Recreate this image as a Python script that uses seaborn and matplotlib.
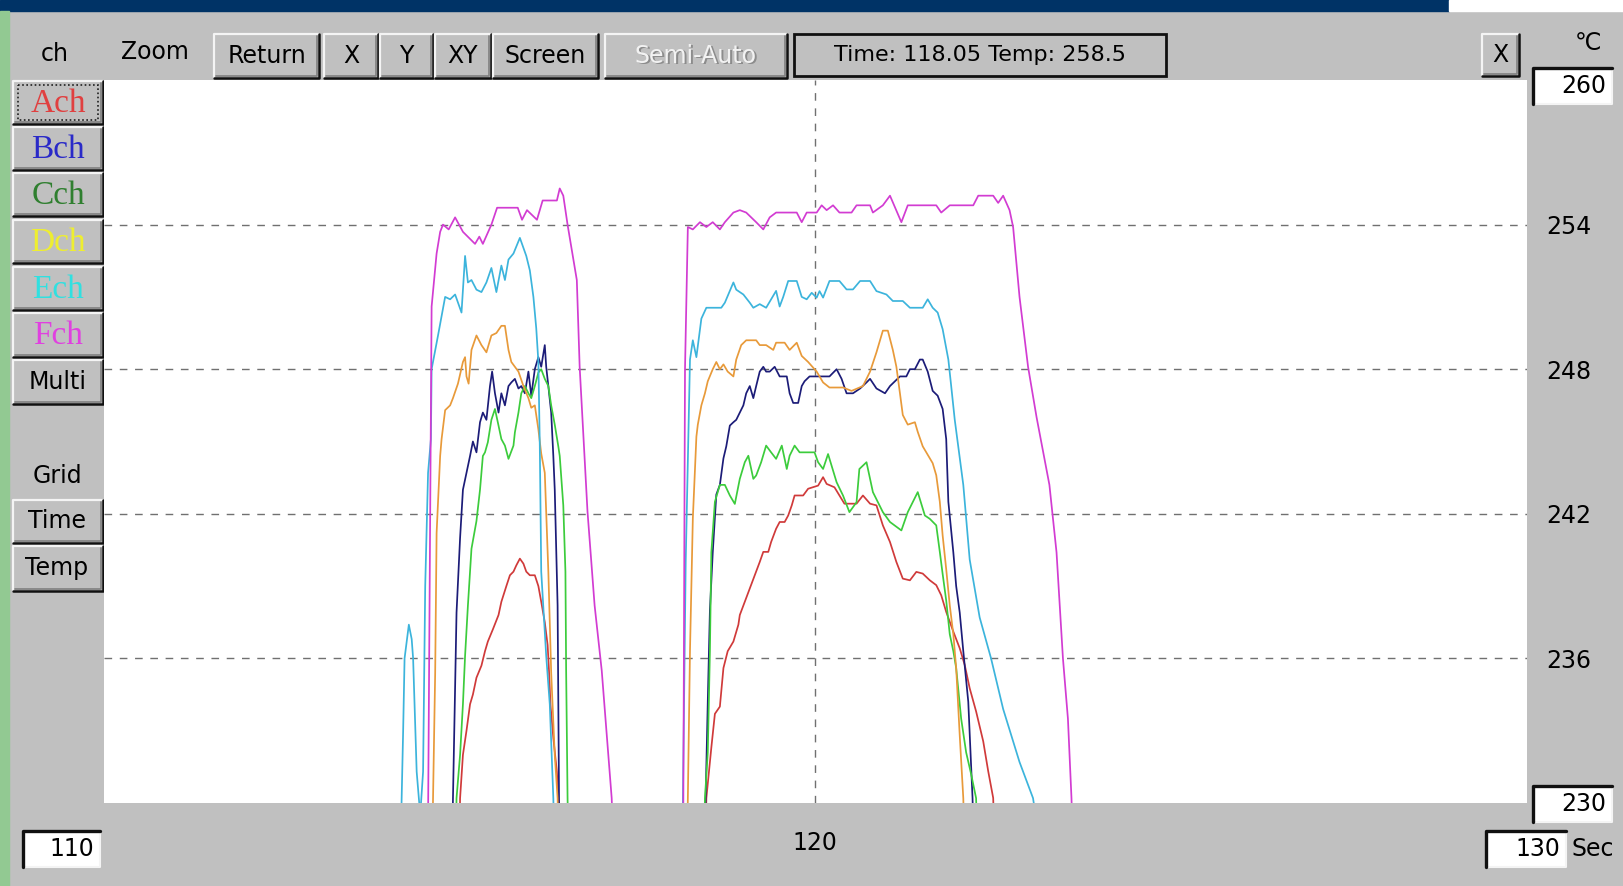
import matplotlib
matplotlib.use("Agg")
import matplotlib.pyplot as plt
import seaborn as sns
import pandas as pd
from matplotlib.patches import Rectangle

# ---------------- data (time in s, temperature in degC) ----------------
ach_time = [114.98, 115.01, 115.05, 115.10, 115.15, 115.19, 115.24, 115.31, 115.36, 115.40,
            115.47, 115.55, 115.59, 115.66, 115.71, 115.76, 115.80, 115.85, 115.90, 115.94,
            115.99, 116.06, 116.11, 116.15, 116.20, 116.24, 116.26, 116.28, 116.32, 116.37,
            116.39, 116.42,
            118.44, 118.47, 118.54, 118.59, 118.66, 118.71, 118.77, 118.85, 118.92, 118.94,
            119.01, 119.08, 119.15, 119.22, 119.27, 119.34, 119.38, 119.45, 119.50, 119.57,
            119.62, 119.67, 119.71, 119.83, 119.90, 120.04, 120.11, 120.16, 120.27, 120.34,
            120.41, 120.58, 120.67, 120.77, 120.86, 120.95, 121.05, 121.14, 121.23, 121.33,
            121.42, 121.51, 121.61, 121.70, 121.77, 121.84, 121.94, 122.03, 122.10, 122.17,
            122.26, 122.36, 122.43, 122.50, 122.55]
ach_temp = [225, 230.2, 232.0, 233.0, 234.1, 234.5, 235.2, 235.7, 236.3, 236.7,
            237.2, 237.8, 238.35, 239.0, 239.45, 239.6, 239.86, 240.14, 239.93, 239.6,
            239.45, 239.45, 239.0, 238.35, 237.5, 236.55, 235.45, 234.07, 232.7, 231.3,
            230.2, 225,
            225, 230.2, 232.3, 233.7, 234.0, 235.6, 236.3, 236.7, 237.4, 237.8,
            238.35, 238.9, 239.45, 240.0, 240.42, 240.42, 240.83, 241.38, 241.66, 241.66,
            241.93, 242.35, 242.76, 242.76, 243.04, 243.17, 243.52, 243.24, 243.1, 242.76,
            242.42, 242.42, 242.76, 242.42, 242.35, 241.52, 240.83, 240.0, 239.31, 239.24,
            239.59, 239.52, 239.24, 239.04, 238.62, 237.93, 237.11, 236.42, 235.73, 234.76,
            233.8, 232.56, 231.32, 230.21, 225]

bch_time = [114.88, 114.91, 114.94, 114.96, 115.01, 115.05, 115.10, 115.15, 115.19, 115.24,
            115.29, 115.33, 115.38, 115.43, 115.46, 115.50, 115.55, 115.59, 115.64, 115.69,
            115.73, 115.78, 115.83, 115.87, 115.92, 115.97, 116.01, 116.06, 116.11, 116.15,
            116.20, 116.22, 116.25, 116.29, 116.32, 116.34, 116.38, 116.40, 116.43,
            118.43, 118.46, 118.49, 118.52, 118.56, 118.61, 118.66, 118.71, 118.75, 118.80,
            118.85, 118.89, 118.94, 118.99, 119.03, 119.08, 119.13, 119.17, 119.22, 119.27,
            119.31, 119.36, 119.43, 119.50, 119.60, 119.64, 119.69, 119.76, 119.81, 119.85,
            119.92, 120.02, 120.20, 120.30, 120.37, 120.44, 120.53, 120.63, 120.72, 120.77,
            120.86, 120.98, 121.05, 121.19, 121.28, 121.33, 121.40, 121.47, 121.51, 121.58,
            121.65, 121.72, 121.79, 121.84, 121.87, 121.94, 121.98, 122.03, 122.08, 122.15,
            122.21, 122.25]
bch_temp = [225, 230.2, 234.8, 237.9, 241.0, 243.0, 243.7, 244.4, 245.0, 244.55,
            245.8, 246.2, 245.9, 247.3, 247.9, 247.0, 246.2, 247.0, 246.5, 247.3,
            247.45, 247.6, 247.2, 247.3, 247.0, 247.9, 246.9, 248.0, 248.5, 248.1,
            249.0, 248.1, 247.3, 246.2, 244.4, 243.0, 238.2, 230.2, 225,
            225, 230.2, 234.2, 238.0, 240.4, 242.8, 243.2, 244.3, 244.8, 245.66,
            245.8, 245.9, 246.2, 246.5, 247.0, 247.3, 246.8, 247.3, 247.9, 248.1,
            247.9, 247.9, 248.1, 247.7, 247.7, 247.0, 246.6, 246.6, 247.3, 247.5,
            247.7, 247.7, 247.7, 248.0, 247.6, 247.0, 247.0, 247.2, 247.45, 247.6,
            247.2, 247.0, 247.3, 247.7, 247.7, 248.0, 248.0, 248.4, 248.4, 247.9,
            247.1, 246.9, 246.35, 245.1, 242.5, 240.4, 239.0, 237.9, 236.3, 234.2,
            230.2, 225]

cch_time = [114.93, 114.96, 115.01, 115.05, 115.08, 115.12, 115.17, 115.24, 115.29, 115.33,
            115.36, 115.40, 115.45, 115.50, 115.55, 115.59, 115.64, 115.69, 115.76, 115.78,
            115.83, 115.87, 115.92, 115.97, 116.01, 116.06, 116.11, 116.15, 116.20, 116.25,
            116.29, 116.34, 116.39, 116.41, 116.46, 116.49, 116.50, 116.52, 116.55,
            118.42, 118.45, 118.49, 118.52, 118.54, 118.59, 118.66, 118.73, 118.80, 118.87,
            118.94, 119.01, 119.06, 119.13, 119.17, 119.24, 119.31, 119.38, 119.45, 119.53,
            119.60, 119.64, 119.71, 119.78, 119.99, 120.04, 120.11, 120.18, 120.30, 120.39,
            120.48, 120.58, 120.62, 120.72, 120.81, 120.95, 121.05, 121.21, 121.30, 121.44,
            121.54, 121.61, 121.70, 121.75, 121.79, 121.84, 121.89, 121.94, 121.98, 122.05,
            122.12, 122.19, 122.26, 122.30]
cch_temp = [225, 230.2, 232.0, 234.1, 236.1, 238.2, 240.55, 241.7, 243.0, 244.4,
            244.55, 244.97, 245.9, 246.35, 245.66, 245.1, 244.83, 244.28, 244.83, 245.38,
            246.2, 247.0, 247.3, 247.0, 246.8, 247.3, 247.86, 248.0, 247.6, 247.3,
            246.5, 245.7, 244.8, 244.4, 242.35, 239.6, 235.5, 230.2, 225,
            225, 230.2, 232.1, 236.3, 240.4, 242.5, 243.2, 243.2, 242.76, 242.41,
            243.45, 244.14, 244.41, 243.45, 243.59, 244.14, 244.83, 244.55, 244.28, 244.83,
            243.86, 244.41, 244.83, 244.55, 244.55, 244.14, 243.86, 244.48, 243.31, 242.76,
            242.07, 242.48, 243.86, 244.14, 242.9, 242.07, 241.66, 241.31, 242.07, 242.9,
            241.93, 241.79, 241.52, 240.42, 239.5, 238.4, 237.0, 236.3, 235.6, 233.5,
            232.1, 231.2, 230.2, 225]

dch_time = [114.60, 114.63, 114.66, 114.68, 114.73, 114.75, 114.80, 114.87, 114.91, 114.98,
            115.05, 115.08, 115.10, 115.13, 115.17, 115.24, 115.31, 115.38, 115.45, 115.52,
            115.59, 115.64, 115.69, 115.73, 115.78, 115.83, 115.90, 115.97, 116.01, 116.06,
            116.11, 116.15, 116.20, 116.25, 116.29, 116.34, 116.38, 116.42,
            118.18, 118.21, 118.24, 118.28, 118.33, 118.35, 118.40, 118.45, 118.49, 118.56,
            118.61, 118.66, 118.71, 118.77, 118.85, 118.89, 118.96, 119.03, 119.17, 119.22,
            119.31, 119.41, 119.45, 119.57, 119.64, 119.74, 119.81, 119.90, 120.02, 120.11,
            120.20, 120.39, 120.51, 120.67, 120.77, 120.86, 120.95, 121.02, 121.09, 121.14,
            121.19, 121.23, 121.30, 121.40, 121.44, 121.51, 121.65, 121.70, 121.75, 121.79,
            121.84, 121.89, 121.94, 121.98, 122.03, 122.08, 122.12]
dch_temp = [225, 230.2, 235.4, 241.2, 244.4, 245.1, 246.3, 246.5, 246.8, 247.4,
            248.3, 248.5, 247.7, 247.4, 248.8, 249.4, 249.0, 248.7, 249.4, 249.5,
            249.8, 249.8, 248.8, 248.3, 248.1, 247.9, 247.3, 246.8, 246.4, 246.5,
            245.5, 244.5, 243.7, 239.6, 235.4, 232.0, 230.2, 225,
            225, 230.2, 236.3, 241.8, 245.2, 245.7, 246.5, 247.0, 247.5, 248.0,
            248.3, 248.0, 248.2, 247.9, 247.7, 248.4, 249.0, 249.2, 249.2, 249.0,
            249.0, 248.8, 249.1, 249.1, 248.8, 249.1, 248.55, 248.3, 247.9, 247.45,
            247.24, 247.24, 247.1, 247.3, 247.9, 248.7, 249.6, 249.6, 248.8, 248.1,
            247.0, 246.1, 245.7, 245.8, 245.4, 244.8, 244.1, 243.6, 242.5, 241.1,
            239.7, 238.2, 237.0, 235.6, 232.8, 230.2, 225]

ech_time = [114.15, 114.21, 114.23, 114.29, 114.33, 114.35, 114.40, 114.45, 114.49, 114.52,
            114.56, 114.60, 114.61, 114.70, 114.80, 114.87, 114.94, 115.03, 115.08, 115.12,
            115.17, 115.24, 115.31, 115.38, 115.45, 115.52, 115.59, 115.64, 115.69, 115.76,
            115.85, 115.94, 115.99, 116.04, 116.08, 116.11, 116.13, 116.15, 116.22, 116.27,
            116.32, 116.36,
            118.12, 118.18, 118.24, 118.28, 118.33, 118.40, 118.47, 118.68, 118.73, 118.85,
            118.89, 118.99, 119.08, 119.13, 119.22, 119.31, 119.38, 119.45, 119.50, 119.55,
            119.62, 119.74, 119.81, 119.88, 119.95, 120.02, 120.06, 120.11, 120.20, 120.34,
            120.44, 120.53, 120.63, 120.77, 120.86, 121.00, 121.09, 121.23, 121.33, 121.51,
            121.58, 121.65, 121.72, 121.79, 121.87, 121.91, 121.96, 122.08, 122.17, 122.31,
            122.47, 122.64, 122.87, 123.06, 123.12]
ech_temp = [225, 233.0, 236.0, 237.4, 236.8, 236.0, 231.3, 229.5, 231.3, 239.0,
            243.7, 245.1, 248.0, 249.4, 251.0, 250.9, 251.1, 250.35, 252.7, 251.6,
            251.7, 251.3, 251.2, 251.6, 252.2, 251.2, 252.3, 251.7, 252.55, 252.8,
            253.45, 252.7, 252.1, 251.0, 249.7, 248.3, 244.8, 239.6, 236.1, 234.1,
            230.2, 225,
            225, 240.0, 248.4, 249.2, 248.5, 250.1, 250.55, 250.55, 250.76, 251.6,
            251.3, 251.1, 250.76, 250.55, 250.7, 250.55, 250.9, 251.25, 250.6, 251.0,
            251.66, 251.66, 251.0, 250.9, 251.17, 250.97, 251.24, 250.97, 251.66, 251.66,
            251.31, 251.31, 251.66, 251.66, 251.24, 251.1, 250.83, 250.83, 250.55, 250.55,
            250.9, 250.55, 250.35, 249.66, 248.4, 247.3, 245.9, 243.2, 240.1, 237.7,
            236.0, 233.9, 231.7, 230.2, 229]

fch_time = [114.55, 114.61, 114.68, 114.73, 114.77, 114.85, 114.94, 115.05, 115.22, 115.28,
            115.33, 115.45, 115.53, 115.82, 115.88, 115.95, 116.09, 116.17, 116.37, 116.41,
            116.46, 116.52, 116.65, 116.69, 116.80, 116.90, 117.00, 117.14, 117.20,
            118.14, 118.17, 118.21, 118.28, 118.38, 118.47, 118.56, 118.66, 118.73, 118.85,
            118.94, 119.03, 119.17, 119.27, 119.36, 119.45, 119.74, 119.81, 119.88, 120.02,
            120.09, 120.16, 120.25, 120.34, 120.51, 120.58, 120.77, 120.81, 120.95, 121.05,
            121.21, 121.30, 121.70, 121.77, 121.89, 122.22, 122.29, 122.50, 122.57, 122.64,
            122.73, 122.78, 122.87, 122.99, 123.11, 123.29, 123.39, 123.48, 123.55, 123.60,
            123.65]
fch_temp = [225, 250.6, 252.8, 253.7, 254.0, 253.8, 254.3, 253.7, 253.2, 253.5,
            253.2, 254.0, 254.7, 254.7, 254.2, 254.6, 254.2, 255.0, 255.0, 255.5,
            255.2, 254.0, 251.7, 248.1, 242.1, 238.2, 235.5, 230.2, 225,
            225, 248.0, 253.9, 253.8, 254.1, 253.9, 254.1, 253.8, 254.1, 254.5,
            254.6, 254.5, 254.1, 253.8, 254.3, 254.5, 254.5, 254.1, 254.5, 254.5,
            254.8, 254.6, 254.8, 254.5, 254.5, 254.8, 254.8, 254.5, 254.8, 255.2,
            254.1, 254.8, 254.8, 254.5, 254.8, 254.8, 255.2, 255.2, 254.9, 255.2,
            254.6, 253.9, 251.0, 248.1, 246.0, 243.2, 240.4, 236.0, 233.5, 230.2,
            225]

channels = ["Ach", "Bch", "Cch", "Dch", "Ech", "Fch"]
line_colors = ["#d03a3a", "#1c1c78", "#3ccc3c", "#e89a3a", "#3cb4dc", "#d23cd2"]
button_text_colors = ["#e04040", "#2a2ac8", "#2f7f2f", "#eeee30", "#30e0e0", "#e040e0"]
y_ticks = [236, 242, 248, 254]
x_ticks = [120]
x_range = [110, 130]
y_range = [230, 260]
readout = "Time: 118.05 Temp: 258.5"

series = {"Ach": (ach_time, ach_temp), "Bch": (bch_time, bch_temp),
          "Cch": (cch_time, cch_temp), "Dch": (dch_time, dch_temp),
          "Ech": (ech_time, ech_temp), "Fch": (fch_time, fch_temp)}
frames = []
for ch in channels:
    t, v = series[ch]
    frames.append(pd.DataFrame({"time": t, "temp": v, "channel": ch}))
df = pd.concat(frames, ignore_index=True)

# ---------------- figure ----------------
W, H = 1623, 886
sns.set_theme(style="white")
plt.rcParams["font.family"] = ["DejaVu Sans"]
fig = plt.figure(figsize=(W / 100, H / 100), dpi=100)

GRAY = "#c0c0c0"
bg = fig.add_axes([0, 0, 1, 1], zorder=0)
bg.set_xlim(0, W)
bg.set_ylim(H, 0)
bg.axis("off")
bg.add_patch(Rectangle((0, 0), W, H, color=GRAY, zorder=1))
bg.add_patch(Rectangle((0, 0), 1449, 11, color="#003366", zorder=2))
bg.add_patch(Rectangle((1449, 0), W - 1449, 11, color="white", zorder=2))
bg.add_patch(Rectangle((0, 11), 9, H - 11, color="#92c992", zorder=2))


def raised(x0, y0, x1, y1):
    bg.add_patch(Rectangle((x0, y0), x1 - x0, y1 - y0, facecolor=GRAY,
                           edgecolor="none", zorder=3))
    bg.plot([x0, x0, x1], [y1, y0, y0], color="#f4f4f4", lw=1.6, zorder=4)
    bg.plot([x0 + 2, x1 - 2, x1 - 2], [y1 - 2, y1 - 2, y0 + 2], color="#808080",
            lw=1.2, zorder=4)
    bg.plot([x0, x1, x1], [y1, y1, y0], color="#101010", lw=1.8, zorder=4)


def sunken(x0, y0, x1, y1, fill="white"):
    bg.add_patch(Rectangle((x0, y0), x1 - x0, y1 - y0, facecolor=fill,
                           edgecolor="none", zorder=3))
    bg.plot([x0, x1, x1], [y1, y1, y0], color="#f4f4f4", lw=1.5, zorder=4)
    bg.plot([x0, x0, x1], [y1, y0, y0], color="#101010", lw=2.4, zorder=4)


def label(x, y, s, fs=17, color="black", ha="center", family=None, z=5):
    kw = {}
    if family:
        kw["family"] = family
    bg.text(x, y, s, fontsize=fs, color=color, ha=ha, va="center", zorder=z, **kw)


# top toolbar
label(55, 54, "ch")
label(155, 52, "Zoom")
for (x0, x1, s) in [(214, 319, "Return"), (324, 378, "X"), (380, 433, "Y"),
                    (435, 491, "XY"), (493, 598, "Screen")]:
    raised(x0, 34, x1, 78)
    label((x0 + x1) / 2, 56, s)
raised(605, 34, 787, 78)
bg.text(697, 57, "Semi-Auto", fontsize=17, color="#8c8c8c", ha="center", va="center", zorder=5)
bg.text(696, 56, "Semi-Auto", fontsize=17, color="#f2f2f2", ha="center", va="center", zorder=6)
bg.add_patch(Rectangle((794, 34), 372, 42, facecolor=GRAY, edgecolor="#101010",
                       lw=2, zorder=3))
label(980, 55, readout, fs=16)
raised(1482, 34, 1519, 76)
label(1500, 55, "X", fs=17)

# right side
label(1588, 43, "\u2103", fs=17)
sunken(1533, 68, 1612, 104)
label(1606, 86, str(y_range[1]), ha="right")
sunken(1533, 786, 1612, 822)
label(1606, 804, str(y_range[0]), ha="right")
sunken(1486, 831, 1566, 867)
label(1560, 849, str(x_range[1]), ha="right")
label(1593, 849, "Sec")
sunken(23, 831, 100, 867)
label(94, 849, str(x_range[0]), ha="right")

# left channel buttons
btn_rows = [(81, 124), (127, 170), (173, 216), (220, 263), (267, 310), (313, 357)]
for (y0, y1), ch, col in zip(btn_rows, channels, button_text_colors):
    raised(13, y0, 103, y1)
    label(58, (y0 + y1) / 2 + 1, ch, fs=24, color=col, family="Liberation Serif")
bg.add_patch(Rectangle((18, 85), 80, 35, facecolor="none", edgecolor="#202020",
                       lw=1.2, linestyle=(0, (1, 1.5)), zorder=6))
raised(13, 360, 103, 404)
label(58, 382, "Multi")
label(57, 476, "Grid")
raised(13, 500, 103, 543)
label(57, 521, "Time")
raised(13, 546, 103, 591)
label(57, 568, "Temp")

# ---------------- plot area ----------------
L, R, T, B = 103.5, 1527, 80, 803
ax = fig.add_axes([L / W, 1 - B / H, (R - L) / W, (B - T) / H], zorder=1)
ax.set_facecolor("white")
for yv in y_ticks:
    ax.axhline(yv, color="#707070", lw=1.0, linestyle=(0, (5.5, 5.5)), zorder=0.5)
for xv in x_ticks:
    ax.axvline(xv, color="#707070", lw=1.0, linestyle=(0, (5.5, 5.5)), zorder=0.5)

sns.lineplot(data=df, x="time", y="temp", hue="channel", hue_order=channels,
             palette=dict(zip(channels, line_colors)), estimator=None, sort=False,
             legend=False, linewidth=1.25, ax=ax, zorder=2)

ax.set_xlim(*x_range)
ax.set_ylim(*y_range)
ax.set_xlabel("")
ax.set_ylabel("")
for sp in ax.spines.values():
    sp.set_visible(False)
ax.set_yticks(y_ticks)
ax.set_yticklabels([str(v) for v in y_ticks])
ax.yaxis.tick_right()
ax.tick_params(axis="y", length=0, pad=14, labelsize=17, labelcolor="black")
ax.set_xticks(x_ticks)
ax.set_xticklabels([str(v) for v in x_ticks])
ax.tick_params(axis="x", length=0, pad=20, labelsize=17, labelcolor="black")

fig.savefig("out.png", dpi=100)
